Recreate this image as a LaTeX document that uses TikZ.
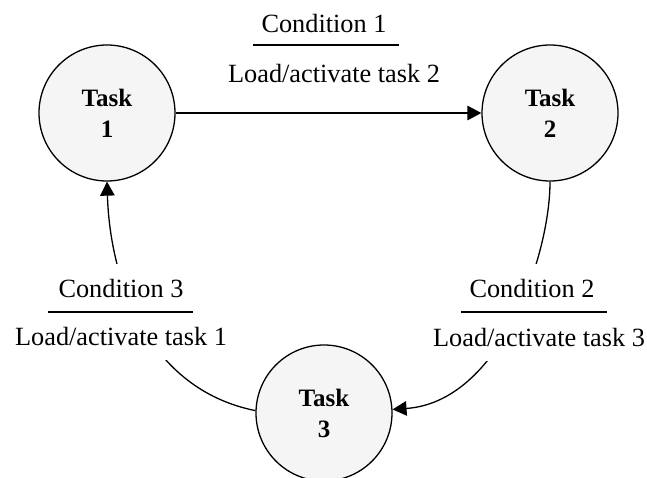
\documentclass[tikz,border=0pt]{standalone}
\usepackage{fontspec}
\setmainfont{Liberation Serif}
\usetikzlibrary{arrows.meta}
\begin{document}
\begin{tikzpicture}[x=1pt,y=-1pt,
  task/.style={circle, draw=black, line width=1.3pt, fill=black!4,
    minimum size=136pt, inner sep=0pt, align=center,
    font=\fontsize{25}{31}\selectfont\bfseries},
  conn/.style={line width=1.3pt, -{Triangle[length=14pt,width=14.5pt]}},
  cond/.style={fill=white, inner xsep=2pt, inner ysep=15pt, align=center,
    font=\fontsize{26.3}{31.5}\selectfont},
  condrule/.style={line width=1.5pt}]
\clip (0,0) rectangle (647,477);
\useasboundingbox (0,0) rectangle (647,477);
\fill[white] (0,0) rectangle (647,477);

\node[task] (t1) at (107,113) {Task\\1};
\node[task] (t2) at (550,113) {Task\\2};
\node[task] (t3) at (324,413) {Task\\3};

\draw[conn] (t1.east) -- (t2.west);
\draw[conn] (t2.south) .. controls (550,256) and (500,402) .. (t3.3);
\draw[conn] (t3.178) .. controls (148,389) and (110,281) .. (t1.south);

\node[cond] (c1) at (334,48.15) {Condition 1\kern20pt\\[18.5pt]Load/activate task 2};
\node[cond] (c2) at (539,312.65) {Condition 2\kern14pt\\[17.5pt]Load/activate task 3};
\node[cond] (c3) at (121,312.15) {Condition 3\\[16.5pt]Load/activate task 1};

\draw[condrule] (253,45) -- (399,45);
\draw[condrule] (461,312) -- (607,312);
\draw[condrule] (48,312) -- (193,312);
\end{tikzpicture}
\end{document}
